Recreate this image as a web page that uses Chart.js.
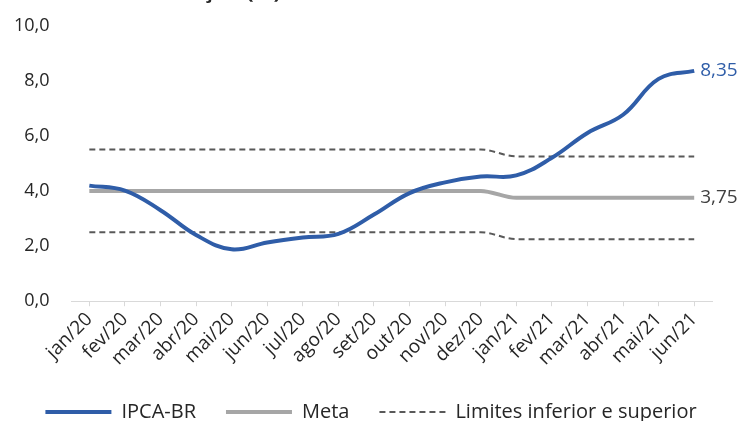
<!DOCTYPE html>
<html>
<head>
<meta charset="utf-8">
<script src="https://cdn.jsdelivr.net/npm/chart.js@4.4.0/dist/chart.umd.min.js"></script>
<style>
  html, body { margin: 0; padding: 0; background: #fff; }
  #wrap { width: 742px; height: 421px; overflow: hidden; position: relative; }
  #box { position: absolute; left: 0; top: -21px; width: 742px; height: 453px; }
</style>
</head>
<body>
<div id="wrap"><div id="box"><canvas id="myChart"></canvas></div></div>
<script>
// data
const months = ["jan/20", "fev/20", "mar/20", "abr/20", "mai/20", "jun/20", "jul/20", "ago/20", "set/20",
  "out/20", "nov/20", "dez/20", "jan/21", "fev/21", "mar/21", "abr/21", "mai/21", "jun/21"];
const ipca = [4.19, 4.01, 3.30, 2.40, 1.88, 2.13, 2.31, 2.44, 3.14, 3.92, 4.31, 4.52, 4.56, 5.20, 6.10, 6.76, 8.06, 8.35];
const meta = [4, 4, 4, 4, 4, 4, 4, 4, 4, 4, 4, 4, 3.75, 3.75, 3.75, 3.75, 3.75, 3.75];
const limSup = [5.5, 5.5, 5.5, 5.5, 5.5, 5.5, 5.5, 5.5, 5.5, 5.5, 5.5, 5.5, 5.25, 5.25, 5.25, 5.25, 5.25, 5.25];
const limInf = [2.5, 2.5, 2.5, 2.5, 2.5, 2.5, 2.5, 2.5, 2.5, 2.5, 2.5, 2.5, 2.25, 2.25, 2.25, 2.25, 2.25, 2.25];
const yTicks = [0, 2, 4, 6, 8, 10];

const fmt = v => v.toFixed(2).replace(".", ",");

// label at the end of the line
const endLabels = {
  id: "endLabels",
  afterDatasetsDraw(chart) {
    const c = chart.ctx;
    c.save();
    c.font = "19px 'Open Sans'";
    c.textBaseline = "middle";
    [0, 1].forEach(i => {
      const ds = chart.data.datasets[i];
      const pts = chart.getDatasetMeta(i).data;
      const p = pts[pts.length - 1];
      c.fillStyle = i === 0 ? "#2F5DA8" : "#404040";
      c.fillText(fmt(ds.data[ds.data.length - 1]), p.x + 6, p.y);
    });
    c.restore();
  }
};

const ctx = document.getElementById("myChart");
const myChart = new Chart(ctx, {
  type: "line",
  data: {
    labels: months,
    datasets: [
      {
        label: "IPCA-BR",
        data: ipca,
        borderColor: "#2F5DA8",
        backgroundColor: "#2F5DA8",
        borderWidth: 4,
        tension: 0.4,
        pointRadius: 0,
        order: 0
      },
      {
        label: "Meta",
        data: meta,
        borderColor: "#A6A6A6",
        backgroundColor: "#A6A6A6",
        borderWidth: 4,
        cubicInterpolationMode: "monotone",
        pointRadius: 0,
        order: 1
      },
      {
        label: "Limites inferior e superior",
        data: limSup,
        borderColor: "#595959",
        backgroundColor: "#595959",
        borderWidth: 2,
        borderDash: [6, 4],
        cubicInterpolationMode: "monotone",
        pointRadius: 0,
        order: 2
      },
      {
        label: "inf",
        data: limInf,
        borderColor: "#595959",
        backgroundColor: "#595959",
        borderWidth: 2,
        borderDash: [6, 4],
        cubicInterpolationMode: "monotone",
        pointRadius: 0,
        order: 2
      }
    ]
  },
  options: {
    responsive: true,
    maintainAspectRatio: false,
    animation: false,
    layout: { padding: 0 },
    plugins: {
      title: {
        display: true,
        text: "Variação (%) do IPCA em 12 meses x Meta",
        font: { family: "'Open Sans'", size: 22, weight: "bold" },
        color: "#262626",
        padding: { top: 0, bottom: 20 }
      },
      legend: {
        position: "bottom",
        labels: {
          usePointStyle: true,
          pointStyleWidth: 66,
          color: "#262626",
          font: { family: "'Open Sans'", size: 20, lineHeight: 1 },
          padding: 30,
          // line-style legend markers, dashed one included
          generateLabels: chart => chart.data.datasets
            .map((ds, i) => ({
              text: ds.label,
              datasetIndex: i,
              pointStyle: "line",
              strokeStyle: ds.borderColor,
              fillStyle: ds.borderColor,
              lineWidth: ds.borderWidth,
              lineDash: ds.borderDash || [],
              fontColor: "#262626"
            }))
            .filter(item => item.text !== "inf")
        }
      },
      tooltip: { enabled: false }
    },
    scales: {
      x: {
        offset: true,
        grid: { drawOnChartArea: false, tickLength: 5, color: "#D9D9D9" },
        border: { color: "#D9D9D9" },
        ticks: {
          maxRotation: 45,
          minRotation: 45,
          autoSkip: false,
          padding: 2,
          color: "#262626",
          font: { family: "'Open Sans'", size: 19 }
        }
      },
      y: {
        min: 0,
        max: 10,
        afterBuildTicks: axis => { axis.ticks = yTicks.map(v => ({ value: v })); },
        grid: { display: false },
        border: { display: false },
        ticks: {
          padding: 14,
          color: "#262626",
          font: { family: "'Open Sans'", size: 18 },
          callback: v => v.toFixed(1).replace(".", ",")
        }
      },
      // empty right axis, room for the end labels
      y2: {
        position: "right",
        grid: { display: false },
        border: { display: false },
        ticks: { display: false },
        afterFit: axis => { axis.width = 30; }
      }
    }
  },
  plugins: [endLabels]
});
</script>
</body>
</html>
